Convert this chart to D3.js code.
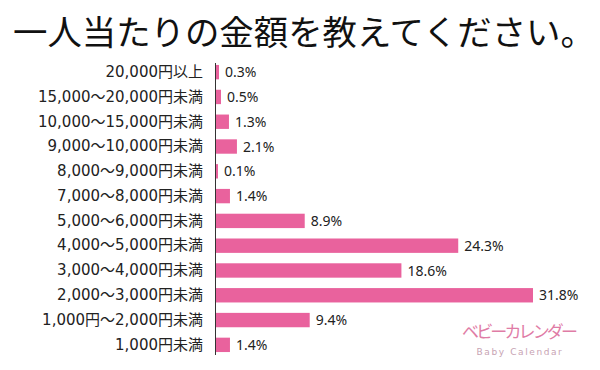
<!DOCTYPE html>
<html>
<head>
<meta charset="utf-8">
<script src="https://cdn.jsdelivr.net/npm/d3@7"></script>
<style>
  body { margin: 0; background: #fff; }
  svg text { font-family: "DejaVu Sans", "Noto Sans CJK JP", sans-serif; }
</style>
</head>
<body>
<svg id="chart" width="600" height="370"></svg>
<script>
var title = "一人当たりの金額を教えてください。"
var categories = ["20,000円以上", "15,000〜20,000円未満", "10,000〜15,000円未満", "9,000〜10,000円未満",
  "8,000〜9,000円未満", "7,000〜8,000円未満", "5,000〜6,000円未満", "4,000〜5,000円未満",
  "3,000〜4,000円未満", "2,000〜3,000円未満", "1,000円〜2,000円未満", "1,000円未満"]
var values = [0.3, 0.5, 1.3, 2.1, 0.1, 1.4, 8.9, 24.3, 18.6, 31.8, 9.4, 1.4]

var svg = d3.select("#chart")
var left = 216

var x = d3.scaleLinear().domain([0, 31.8]).range([left, 533])
var y = d3.scaleBand().domain(categories).range([60, 357]).paddingInner(0.42).paddingOuter(0.2)

// title
svg.append("text").attr("x", 13).attr("y", 45)
  .attr("font-size", 34.4).attr("fill", "#111")
  .style("font-family", '"Noto Sans CJK JP", sans-serif').text(title)

// bars
svg.selectAll("rect.bar").data(values).enter().append("rect").attr("class", "bar")
  .attr("x", left)
  .attr("y", function(d, i) { return y(categories[i]) })
  .attr("width", function(d) { return Math.max(2, x(d) - left) })
  .attr("height", y.bandwidth())
  .attr("fill", "#e9629d")

// value labels
svg.selectAll("text.val").data(values).enter().append("text").attr("class", "val")
  .attr("x", function(d) { return left + Math.max(2, x(d) - left) + 6 })
  .attr("y", function(d, i) { return y(categories[i]) + y.bandwidth() / 2 })
  .attr("dy", "0.36em")
  .attr("font-size", 14).attr("fill", "#222")
  .style("font-family", '"Noto Sans", sans-serif')
  .text(function(d) { return d.toFixed(1) + "%" })

// category axis
var axis = svg.append("g").attr("transform", "translate(215,0)")
  .call(d3.axisLeft(y).tickSize(0).tickPadding(12))
axis.select(".domain").attr("stroke", "#333").attr("d", "M0.5,63V355")
axis.selectAll("text").attr("font-size", 15).attr("fill", "#222")
  .style("font-family", '"DejaVu Sans", "Noto Sans CJK JP", sans-serif')

// logo
svg.append("text").attr("x", 462).attr("y", 338)
  .attr("font-size", 17).attr("fill", "#df7ca6").attr("textLength", 116)
  .style("font-family", '"Noto Sans CJK JP", sans-serif').text("ベビーカレンダー")
svg.append("text").attr("x", 520).attr("y", 355).attr("text-anchor", "middle")
  .attr("font-size", 9).attr("letter-spacing", 1.6).attr("fill", "#c7a3b3").text("Baby Calendar")
</script>
</body>
</html>
